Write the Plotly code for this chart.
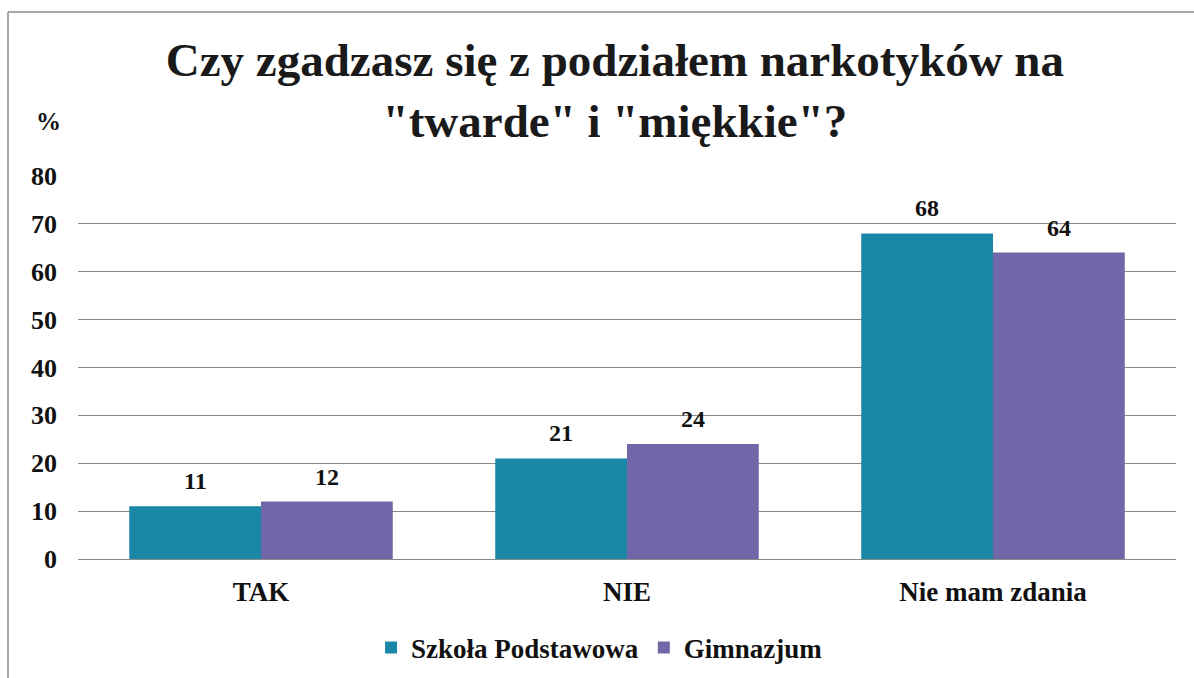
import plotly.graph_objects as go

categories = ["TAK", "NIE", "Nie mam zdania"]
szkola_podstawowa = [11, 21, 68]
gimnazjum = [12, 24, 64]
series_names = ["Szkoła Podstawowa", "Gimnazjum"]
y_ticks = [0, 10, 20, 30, 40, 50, 60, 70, 80]

W, H = 1194, 678
L, R, T, B = 78, 18, 176, 119
pw, ph = W - L - R, H - T - B
BARGAP = 0.28

serif = "Liberation Serif, Times New Roman, serif"

fig = go.Figure()
colors = ["#1B87A6", "#6F67A8"]
series = [szkola_podstawowa, gimnazjum]
for name, vals, c in zip(series_names, series, colors):
    fig.add_trace(go.Bar(
        x=categories, y=vals, name=name, marker=dict(color=c, line=dict(width=0)),
        cliponaxis=False,
    ))

def px_x(x):
    return (x - L) / pw

def px_y(y):
    return (H - B - y) / ph

# value labels above each bar (offset to each bar's group slot)
bar_px = pw / len(categories) * (1 - BARGAP) / len(series)
annotations = []
for i, vals in enumerate(series):
    off = (i - (len(series) - 1) / 2) * bar_px
    for cat, v in zip(categories, vals):
        annotations.append(dict(
            x=cat, y=v, xref="x", yref="y", text=str(v), showarrow=False,
            xshift=off, yshift=10, yanchor="bottom", xanchor="center",
            font=dict(family=serif, size=24, color="#111111", weight="bold")))

annotations.append(dict(text="%", x=px_x(48), y=px_y(122), xref="paper", yref="paper",
                        xanchor="center", yanchor="middle", showarrow=False,
                        font=dict(family=serif, size=25, color="#111111", weight="bold")))

fig.update_layout(
    width=W, height=H,
    margin=dict(l=L, r=R, t=T, b=B, autoexpand=False),
    paper_bgcolor="white", plot_bgcolor="white",
    barmode="group", bargap=BARGAP, bargroupgap=0,
    title=dict(text="Czy zgadzasz się z podziałem narkotyków na<br>\"twarde\" i \"miękkie\"?",
               font=dict(family=serif, size=47, color="#1a1a1a", weight="bold"),
               x=0.515, xanchor="center", y=1 - 76 / H, yanchor="middle"),
    xaxis=dict(showgrid=False, showline=False, ticks="", ticklabelstandoff=14,
               tickfont=dict(family=serif, size=27, color="#111111", weight="bold")),
    yaxis=dict(range=[0, 80], tickvals=y_ticks, showgrid=True, gridcolor="#8a8a8a", gridwidth=1,
               zeroline=True, zerolinecolor="#8a8a8a", zerolinewidth=1, showline=False,
               ticks="", ticklabelstandoff=20,
               tickfont=dict(family=serif, size=26, color="#111111", weight="bold")),
    legend=dict(orientation="h", x=0.475, xanchor="center", y=px_y(648), yanchor="middle",
                font=dict(family=serif, size=27, color="#111111", weight="bold"), itemwidth=30,
                traceorder="normal"),
    showlegend=True,
    annotations=annotations,
    shapes=[
        dict(type="line", xref="paper", yref="paper", x0=px_x(8), x1=px_x(8), y0=px_y(12), y1=px_y(690),
             line=dict(color="#8c8c8c", width=1.5)),
        dict(type="line", xref="paper", yref="paper", x0=px_x(8), x1=px_x(1200), y0=px_y(12), y1=px_y(12),
             line=dict(color="#8c8c8c", width=1.5)),
    ],
)

fig.write_html("out.html", config={"displayModeBar": False},
               post_script="document.body.style.margin='0';")
